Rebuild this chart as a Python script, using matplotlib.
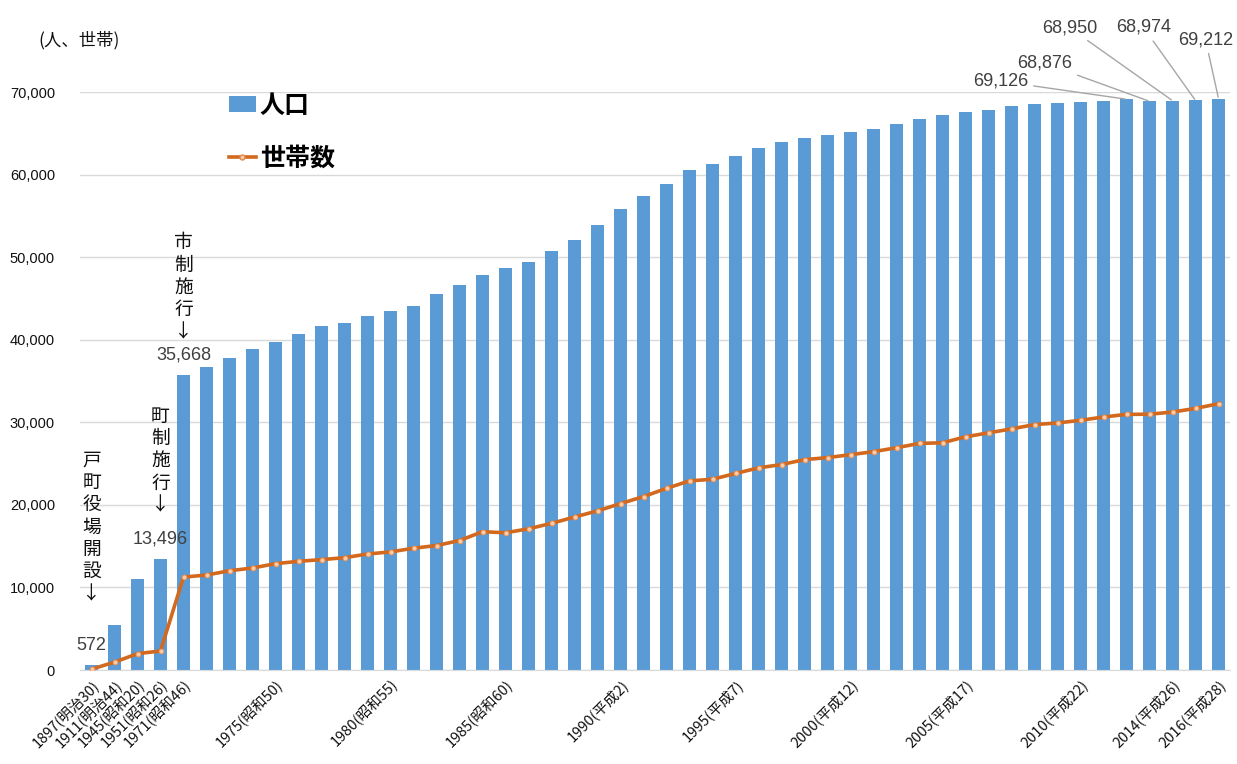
import matplotlib
matplotlib.use("Agg")
import matplotlib.pyplot as plt
from matplotlib.patches import Patch
from matplotlib.lines import Line2D

plt.rcParams['font.family'] = ['Noto Sans CJK JP', 'DejaVu Sans']

years = [1897, 1911, 1945, 1951] + list(range(1971, 2017))

population = [572, 5500, 11080, 13496,
              35668, 36660, 37830, 38880, 39720, 40650, 41660, 42060, 42830, 43440,
              44120, 45500, 46670, 47840, 48730, 49450, 50790, 52120, 53900, 55830,
              57440, 58900, 60510, 61240, 62290, 63170, 63900, 64470, 64790, 65200,
              65520, 66130, 66690, 67170, 67600, 67880, 68340, 68600, 68650, 68830,
              68950, 69126, 68876, 68950, 68974, 69212]

households = [100, 950, 1980, 2300,
              11250, 11500, 12020, 12350, 12880, 13160, 13370, 13600, 14050, 14300,
              14750, 15070, 15680, 16750, 16620, 17100, 17760, 18530, 19270, 20150,
              21000, 22000, 22900, 23100, 23800, 24480, 24880, 25480, 25720, 26080,
              26440, 26920, 27440, 27520, 28240, 28720, 29200, 29720, 29920, 30240,
              30640, 30960, 30980, 31240, 31680, 32250]

tick_years = [1897, 1911, 1945, 1951, 1971, 1975, 1980, 1985, 1990, 1995,
              2000, 2005, 2010, 2014, 2016]
tick_labels = ['1897(明治30)', '1911(明治44)', '1945(昭和20)', '1951(昭和26)',
               '1971(昭和46)', '1975(昭和50)', '1980(昭和55)', '1985(昭和60)',
               '1990(平成2)', '1995(平成7)', '2000(平成12)', '2005(平成17)',
               '2010(平成22)', '2014(平成26)', '2016(平成28)']

yticks = [0, 10000, 20000, 30000, 40000, 50000, 60000, 70000]

# labels directly above bars
bar_labels_years = [1897, 1951, 1971]
# labels with leader lines (year, offset in pixels)
leader_years = [2012, 2013, 2014, 2015, 2016]
leader_offsets = [(-126, 18), (-105, 38), (-103, 73), (-52, 73), (-13, 59)]

# vertical event notes (year, text, top y value)
events = [(1897, '戸\n町\n役\n場\n開\n設\n↓', 26700),
          (1951, '町\n制\n施\n行\n↓', 32000),
          (1971, '市\n制\n施\n行\n↓', 53000)]

BAR = '#5b9bd5'
LINE = '#d2691e'

fig = plt.figure(figsize=(12.37, 7.64), dpi=100)
ax = fig.add_axes([80 / 1237, 94 / 764, 1150 / 1237, 578 / 764])

x = list(range(len(years)))
ax.bar(x, population, width=0.57, color=BAR, zorder=2)
ax.plot(x, households, color=LINE, lw=2.6, marker='o', markersize=3.6,
        markerfacecolor='#f8cbad', markeredgecolor='#e58a4a', markeredgewidth=0.6,
        zorder=3)

ax.set_xlim(-0.5, len(years) - 0.5)
ax.set_ylim(0, 70000)
ax.set_yticks(yticks)
ax.set_yticklabels([f'{v:,}' for v in yticks], fontsize=10.5, color='#111111',
                   family=['Liberation Sans', 'DejaVu Sans'])
ax.yaxis.grid(True, color='#d9d9d9', lw=1.0, zorder=0)
ax.set_axisbelow(True)
for s in ['top', 'right', 'left']:
    ax.spines[s].set_visible(False)
ax.spines['bottom'].set_color('#d9d9d9')
ax.tick_params(axis='y', length=0, pad=18)
ax.tick_params(axis='x', length=0, pad=5)

ax.set_xticks([years.index(y) for y in tick_years])
ax.set_xticklabels(tick_labels, rotation=45, ha='right', va='top',
                   rotation_mode='anchor', fontsize=10.5, color='#111111')

for y in bar_labels_years:
    i = years.index(y)
    ax.annotate(f'{population[i]:,}', xy=(i, population[i]), xytext=(0, 20),
                textcoords='offset pixels', ha='center', va='center',
                fontsize=13, color='#404040',
                family=['Liberation Sans', 'DejaVu Sans'])

for y, off in zip(leader_years, leader_offsets):
    i = years.index(y)
    ax.annotate(f'{population[i]:,}', xy=(i, population[i]), xytext=off,
                textcoords='offset pixels', ha='center', va='center',
                fontsize=13, color='#404040',
                family=['Liberation Sans', 'DejaVu Sans'],
                arrowprops=dict(arrowstyle='-', color='#a6a6a6', lw=1.0,
                                shrinkA=2, shrinkB=1),
                annotation_clip=False)

for y, txt, top in events:
    i = years.index(y)
    ax.text(i, top, txt, ha='center', va='top', fontsize=13.5, color='#111111',
            linespacing=1.08)

handles = [Patch(facecolor=BAR, edgecolor='none'),
           Line2D([0], [0], color=LINE, lw=2.6, marker='o', markersize=3.6,
                  markerfacecolor='#f8cbad', markeredgecolor='#e58a4a')]
leg = fig.legend(handles, ['人口', '世帯数'], loc='upper left',
                 bbox_to_anchor=(206 / 1237, 1 - 71 / 764), frameon=False,
                 prop={'size': 18, 'weight': 'bold'}, labelspacing=1.15,
                 handlelength=1.1, handleheight=0.6, handletextpad=0.15)

fig.text(38 / 1237, 1 - 40 / 764, '(人、世帯)', fontsize=12.5, color='#111111',
         va='center', ha='left')

fig.savefig('out.png', dpi=100)
